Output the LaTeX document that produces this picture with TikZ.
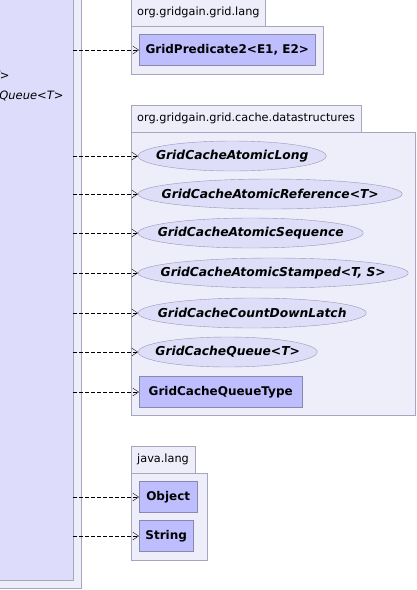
\documentclass[tikz,border=0pt]{standalone}
\usepackage{fontspec}
\setmainfont{DejaVu Sans}
\usetikzlibrary{shapes.geometric,arrows.meta}
\definecolor{pkgfill}{RGB}{238,238,251}
\definecolor{pkgline}{RGB}{166,166,190}
\definecolor{srcfill}{RGB}{221,221,251}
\definecolor{clsfill}{RGB}{190,190,255}
\definecolor{clsline}{RGB}{136,136,176}
\definecolor{ifcfill}{RGB}{222,222,248}
\definecolor{ifcline}{RGB}{150,150,186}
\begin{document}
\begin{tikzpicture}
	[x=1pt,y=-1pt,
	pkg/.style={draw=pkgline,fill=pkgfill,anchor=north west,inner sep=0pt},
	pkgtab/.style={draw=pkgline,fill=pkgfill,anchor=south west,minimum height=27pt,inner xsep=6pt,font=\fontsize{11.3}{13}\selectfont},
	cls/.style={draw=clsline,fill=clsfill,anchor=west,minimum height=31pt,inner xsep=5pt,font=\bfseries\fontsize{12}{14}\selectfont},
	ifc/.style={ellipse,draw=ifcline,fill=ifcfill,anchor=west,minimum height=30pt,inner sep=0pt,font=\bfseries\itshape\fontsize{12.3}{14}\selectfont,
		execute at begin node={\hbox to 0pt\bgroup\hss},execute at end node={\hss\egroup}},
	dep/.style={dashed,dash pattern=on 4pt off 2pt,-{Straight Barb[length=6pt,width=8pt]}}]
	\useasboundingbox[fill=white] (0,0) rectangle (417,590);
	
	% the using class on the left
	\node[draw=pkgline,fill=pkgfill,anchor=north east,minimum width=100pt,minimum height=598pt] (srcpkg) at (81,-10) {};
	\node[draw=pkgline,fill=srcfill,anchor=north east,minimum width=92pt,minimum height=590pt] (src) at (73,-10) {};
	\node[anchor=east,font=\itshape\fontsize{11.5}{14}\selectfont] (srcT) at (13,75) {T>};
	\node[anchor=east,font=\itshape\fontsize{11.5}{14}\selectfont] (srcQ) at (67,96) {Queue<T>};
	
	% org.gridgain.grid.lang
	\node[pkg,minimum width=192pt,minimum height=48pt] (lang) at (131,26) {};
	\node[pkgtab] (langtab) at (lang.north west) {org.gridgain.grid.lang};
	\node[cls,minimum width=176pt] (pred) at (139,50) {GridPredicate2<E1, E2>};
	
	% org.gridgain.grid.cache.datastructures
	\node[pkg,minimum width=284pt,minimum height=283pt] (ds) at (131,132) {};
	\node[pkgtab] (dstab) at (ds.north west) {org.gridgain.grid.cache.datastructures};
	\node[ifc,minimum width=188pt] (along) at (138,156) {GridCacheAtomicLong};
	\node[ifc,minimum width=264pt] (aref) at (138,194) {GridCacheAtomicReference<T>};
	\node[ifc,minimum width=225pt] (aseq) at (138,233) {GridCacheAtomicSequence};
	\node[ifc,minimum width=270pt] (astamp) at (138,273) {GridCacheAtomicStamped<T, S>};
	\node[ifc,minimum width=228pt] (latch) at (138,313) {GridCacheCountDownLatch};
	\node[ifc,minimum width=179pt] (queue) at (138,352) {GridCacheQueue<T>};
	\node[cls,minimum width=163pt] (qtype) at (139,392) {GridCacheQueueType};
	
	% java.lang
	\node[pkg,minimum width=76pt,minimum height=87pt] (jl) at (131,473) {};
	\node[pkgtab] (jltab) at (jl.north west) {java.lang};
	\node[cls,minimum width=58pt] (obj) at (139,497) {Object};
	\node[cls,minimum width=54pt] (str) at (139,536) {String};
	
	\foreach \to in {pred,along,aref,aseq,astamp,latch,queue,qtype,obj,str}
	\draw[dep] (src.east |- \to.west) -- (\to.west);
	
\end{tikzpicture}
\end{document}
